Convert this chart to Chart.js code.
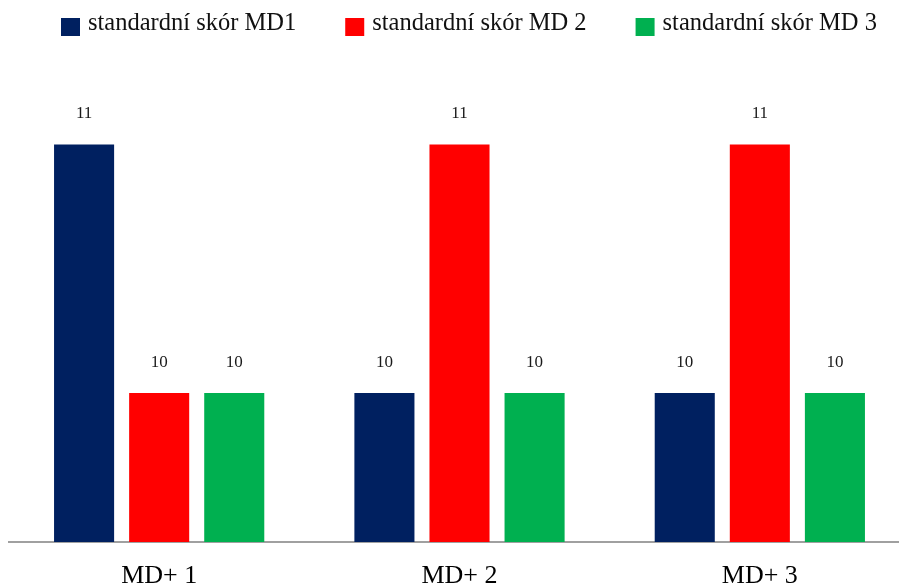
<!DOCTYPE html>
<html>
<head>
<meta charset="utf-8">
<script src="https://cdn.jsdelivr.net/npm/chart.js@4/dist/chart.umd.min.js"></script>
<style>
  html, body { margin: 0; padding: 0; background: #fff; overflow: hidden; }
  #wrap { width: 899px; height: 587px; overflow: hidden; position: relative; }
  canvas { display: block; }
</style>
</head>
<body>
<div id="wrap"><canvas id="chart" width="912" height="610"></canvas></div>
<script>
// Categories and series values
const categories = ['MD+ 1', 'MD+ 2', 'MD+ 3'];
const seriesNames = ['standardní skór MD1', 'standardní skór MD 2', 'standardní skór MD 3'];
const scoreMD1 = [11, 10, 10];
const scoreMD2 = [10, 11, 11];
const scoreMD3 = [10, 10, 10];
const seriesColors = ['#002060', '#FF0000', '#00B050'];

const SERIF = "'Liberation Serif', 'Times New Roman', serif";

// Value labels above each bar
const valueLabels = {
  id: 'valueLabels',
  afterDatasetsDraw(chart) {
    const ctx = chart.ctx;
    ctx.save();
    ctx.font = '17px ' + SERIF;
    ctx.fillStyle = '#1a1a1a';
    ctx.textAlign = 'center';
    ctx.textBaseline = 'alphabetic';
    chart.data.datasets.forEach((ds, i) => {
      chart.getDatasetMeta(i).data.forEach((bar, j) => {
        ctx.fillText(String(ds.data[j]), bar.x, bar.y - 26);
      });
    });
    ctx.restore();
  }
};

// Legend row across the top
const topLegend = {
  id: 'topLegend',
  afterDraw(chart) {
    const ctx = chart.ctx;
    ctx.save();
    ctx.font = '24.5px ' + SERIF;
    ctx.textBaseline = 'alphabetic';
    ctx.textAlign = 'left';
    let x = chart.chartArea.left + 52;
    chart.data.datasets.forEach(ds => {
      ctx.fillStyle = ds.backgroundColor;
      ctx.fillRect(x, 18, 19, 18);
      ctx.fillStyle = '#111';
      ctx.fillText(ds.label, x + 27, 30);
      x += 27 + ctx.measureText(ds.label).width + 49;
    });
    ctx.restore();
  }
};

const datasets = [scoreMD1, scoreMD2, scoreMD3].map((vals, i) => ({
  label: seriesNames[i],
  data: vals,
  backgroundColor: seriesColors[i],
  borderWidth: 0,
  categoryPercentage: 0.75,
  barPercentage: 0.8
}));

new Chart(document.getElementById('chart'), {
  type: 'bar',
  data: { labels: categories, datasets },
  options: {
    responsive: false,
    devicePixelRatio: 1,
    animation: false,
    layout: { padding: { left: 9, right: 2, top: 45, bottom: 0 } },
    plugins: { legend: { display: false }, tooltip: { enabled: false } },
    scales: {
      x: {
        grid: { display: false, drawTicks: false },
        border: { display: true, color: '#a0a0a0', width: 2 },
        ticks: {
          color: '#000',
          padding: 21,
          font: { family: SERIF, size: 26, lineHeight: 1 }
        }
      },
      y: {
        display: false,
        min: 9.4,
        max: 11.4
      }
    }
  },
  plugins: [valueLabels, topLegend]
});
</script>
</body>
</html>
